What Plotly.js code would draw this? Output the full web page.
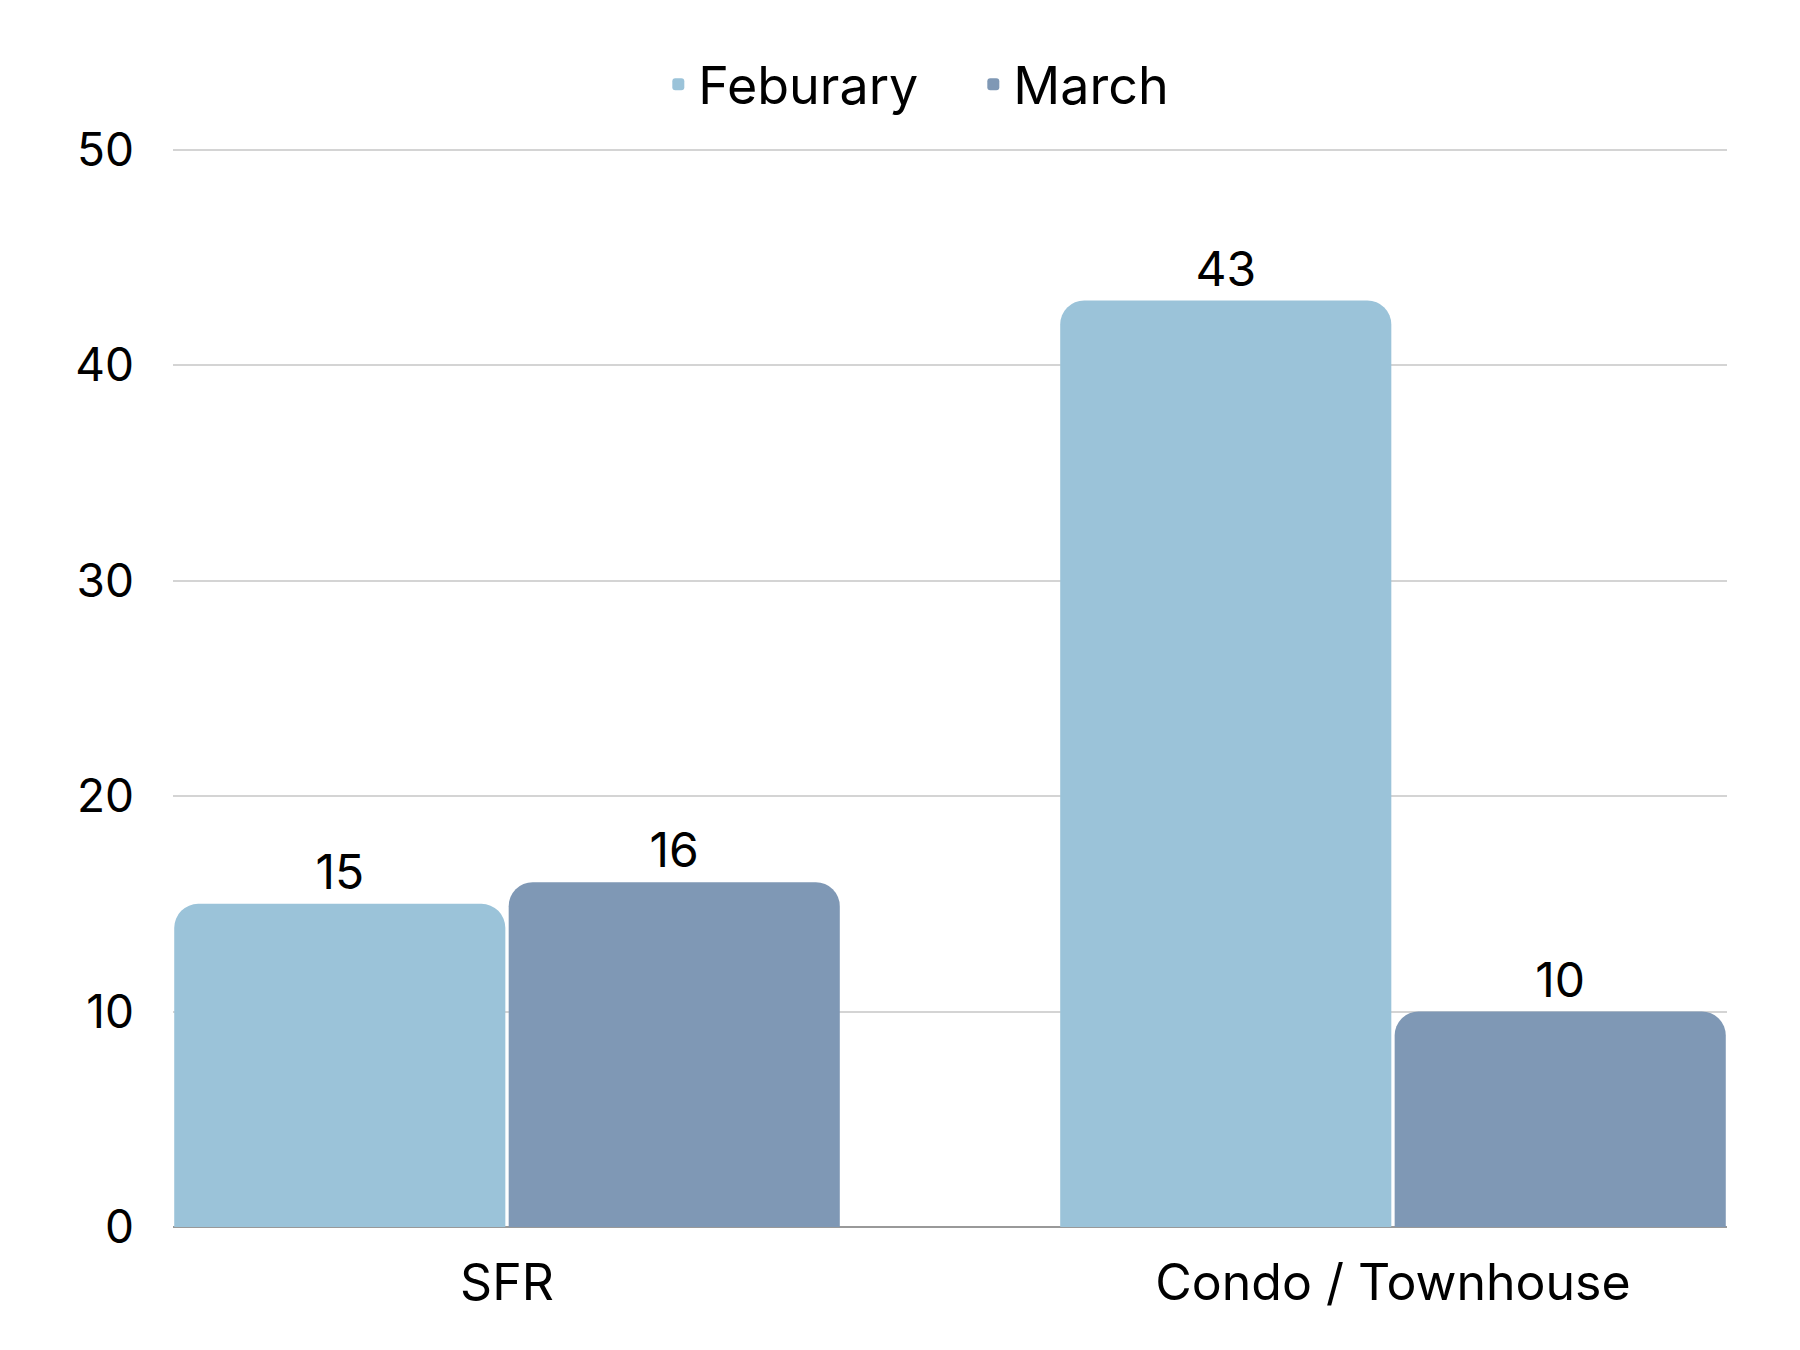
<!DOCTYPE html>
<html>
<head>
<meta charset="utf-8">
<script src="https://cdn.plot.ly/plotly-3.0.1.min.js"></script>
<style>html,body{margin:0;padding:0;background:#fff;}#chart{width:1800px;height:1350px;}</style>
</head>
<body>
<div id="chart"></div>
<script>
var categories = ["SFR", "Condo / Townhouse"];
var februaryValues = [15, 43];
var marchValues = [16, 10];
var seriesNames = ["Feburary", "March"];
var yTickValues = [0, 10, 20, 30, 40, 50];

var fontFamily = "Inter, 'Noto Sans', sans-serif";

var traces = [
  {
    type: "bar", name: seriesNames[0], x: categories, y: februaryValues,
    text: februaryValues.map(String), textposition: "outside", cliponaxis: false,
    textfont: {family: fontFamily, size: 48, color: "#000"},
    marker: {color: "#9BC3D9", cornerradius: 24}
  },
  {
    type: "bar", name: seriesNames[1], x: categories, y: marchValues,
    text: marchValues.map(String), textposition: "outside", cliponaxis: false,
    textfont: {family: fontFamily, size: 48, color: "#000"},
    marker: {color: "#7F98B5", cornerradius: 24}
  }
];

var layout = {
  width: 1800, height: 1350,
  margin: {l: 173, r: 73, t: 148, b: 123},
  paper_bgcolor: "#fff", plot_bgcolor: "#fff",
  font: {family: fontFamily, size: 46, color: "#000"},
  barmode: "group", bargap: 0.245, bargroupgap: 0.01,
  showlegend: true,
  legend: {orientation: "h", x: 0.515, xanchor: "center", y: 1.059, yanchor: "middle",
           font: {family: fontFamily, size: 52, color: "#000"}, itemwidth: 30,
           entrywidth: 270, entrywidthmode: "pixels", traceorder: "normal"},
  xaxis: {range: [-0.377, 1.377], showgrid: false, showline: false, zeroline: false,
          ticks: "", tickfont: {family: fontFamily, size: 50}, ticklabelstandoff: 22},
  yaxis: {range: [0, 50.08], tickvals: yTickValues, showgrid: true, gridcolor: "#d4d4d4", gridwidth: 1.5,
          zeroline: true, zerolinecolor: "#999", zerolinewidth: 2, showline: false, ticks: "",
          tickfont: {family: fontFamily, size: 46}, ticklabelstandoff: 38}
};

Plotly.newPlot("chart", traces, layout, {displayModeBar: false});
</script>
</body>
</html>
